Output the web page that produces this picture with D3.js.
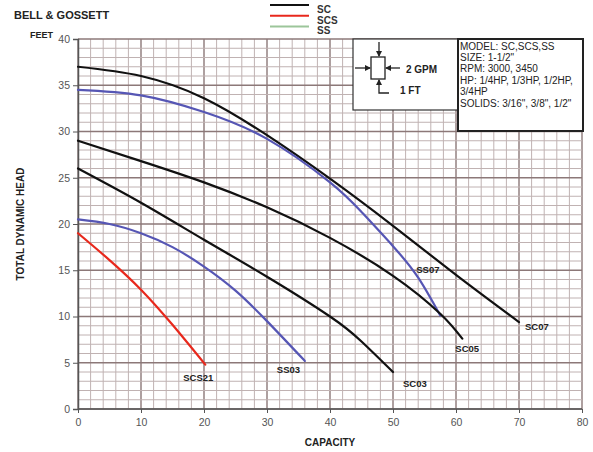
<!DOCTYPE html>
<html><head><meta charset="utf-8">
<script src="https://cdn.jsdelivr.net/npm/d3@7"></script>
<style>
html,body{margin:0;padding:0;background:#fff;}
svg{display:block;font-family:"Liberation Sans",Arial,sans-serif;}
</style></head>
<body>
<svg id="c" width="593" height="452"></svg>
<script>
// ---- data ----
const xTicks = [0,10,20,30,40,50,60,70,80];
const yTicks = [0,5,10,15,20,25,30,35,40];
const seriesNames = ["SC","SCS","SS"];
const curveNames = ["SC07","SS07","SC05","SC03","SS03","SCS21"];
const curveSeries = ["SC","SS","SC","SC","SS","SCS"];
const SC07 = [[0,37],[10,36.0],[20,33.6],[30,29.6],[40,24.9],[50,19.8],[60,14.5],[70,9.4]];
const SS07 = [[0,34.5],[10,33.9],[20,32.1],[30,29.2],[40,24.5],[45,21.3],[50,17.6],[54,14.2],[57.5,10.1]];
const SC05 = [[0,29],[10,26.8],[20,24.5],[30,21.8],[40,18.5],[50,14.4],[57.5,10.3],[61,7.6]];
const SC03 = [[0,26],[10,22.3],[20,18.3],[30,14.3],[40,10.0],[45,7.3],[50,4.0]];
const SS03 = [[0,20.5],[5,20.0],[10,19.0],[15,17.5],[20,15.4],[25,12.8],[30,9.5],[36,5.2]];
const SCS21 = [[0,19],[5,16.1],[10,12.9],[15,9.1],[20.2,4.8]];
const infoLines = ["MODEL: SC,SCS,SS","SIZE: 1-1/2\"","RPM: 3000, 3450","HP: 1/4HP, 1/3HP, 1/2HP,","3/4HP","SOLIDS:  3/16\", 3/8\", 1/2\""];

// ---- styles / layout ----
const colors = {SC:"#111111", SCS:"#e8281c", SS:"#5656b4"};
const legendColors = {SC:"#111111", SCS:"#e8281c", SS:"#9cc59a"};
const labelOffsets = {SC07:[6,5], SS07:[-24,-46], SC05:[-7,10], SC03:[10,12], SS03:[-28,9], SCS21:[-22,13]};
const curves = {SC07, SS07, SC05, SC03, SS03, SCS21};

const svg = d3.select("#c");
const x = d3.scaleLinear().domain([0,80]).range([78,582]);
const y = d3.scaleLinear().domain([0,40]).range([409,39]);

// grid
const g = svg.append("g");
d3.range(0,81,2).forEach(v=>{
  const major = v%10===0;
  g.append("line").attr("x1",x(v)).attr("x2",x(v)).attr("y1",y(0)).attr("y2",y(40))
   .attr("stroke", major?"#8c7878":"#c0b2b2").attr("stroke-width", major?1.4:1);
});
d3.range(0,41,1).forEach(v=>{
  const major = v%5===0;
  g.append("line").attr("x1",x(0)).attr("x2",x(80)).attr("y1",y(v)).attr("y2",y(v))
   .attr("stroke", major?"#8c7878":"#c0b2b2").attr("stroke-width", major?1.4:1);
});

// axes
const xAxis = d3.axisBottom(x).tickValues(xTicks).tickSize(4).tickPadding(6);
const yAxis = d3.axisLeft(y).tickValues(yTicks).tickSize(5).tickPadding(3);
const gx = svg.append("g").attr("transform",`translate(0,${y(0)})`).call(xAxis);
const gy = svg.append("g").attr("transform",`translate(${x(0)},0)`).call(yAxis);
[gx,gy].forEach(a=>{
  a.select(".domain").attr("stroke","#555").attr("stroke-width",1.5);
  a.selectAll(".tick line").attr("stroke","#555");
  a.selectAll(".tick text").attr("fill","#555").style("font-size","10.5px").style("font-family","Liberation Sans, Arial, sans-serif");
});
gx.select(".domain").remove();
gx.append("line").attr("x1",x(0)).attr("x2",x(80)).attr("stroke","#555").attr("stroke-width",1.5);

// curves
const line = d3.line().x(d=>x(d[0])).y(d=>y(d[1])).curve(d3.curveNatural);
curveNames.forEach((n,i)=>{
  svg.append("path").attr("d",line(curves[n])).attr("fill","none")
    .attr("stroke",colors[curveSeries[i]]).attr("stroke-width",2.2).attr("stroke-linecap","round");
});
curveNames.forEach(n=>{
  const pts = curves[n]; const e = pts[pts.length-1]; const o = labelOffsets[n];
  svg.append("text").attr("x",x(e[0])+o[0]).attr("y",y(e[1])+o[1]).attr("dy","0.35em")
    .attr("font-size","9.5px").attr("font-weight","bold").attr("fill","#222").text(n);
});

// titles
svg.append("text").attr("x",14).attr("y",18.5).attr("font-size","11px").attr("font-weight","bold").attr("fill","#222").text("BELL & GOSSETT");
svg.append("text").attr("x",30).attr("y",38).attr("font-size","9px").attr("font-weight","bold").attr("fill","#222").text("FEET");
svg.append("text").attr("transform","translate(24,224) rotate(-90)").attr("text-anchor","middle")
  .attr("font-size","10px").attr("font-weight","bold").attr("fill","#222").text("TOTAL DYNAMIC HEAD");
svg.append("text").attr("x",330).attr("y",446).attr("text-anchor","middle")
  .attr("font-size","10px").attr("font-weight","bold").attr("fill","#222").text("CAPACITY");

// legend
seriesNames.forEach((s,i)=>{
  const ly = 5 + i*10.7;
  svg.append("line").attr("x1",270).attr("x2",309).attr("y1",ly).attr("y2",ly)
    .attr("stroke",legendColors[s]).attr("stroke-width",2);
  svg.append("text").attr("x",317).attr("y",ly+4.5).attr("dy","0.35em").attr("font-size","10px").attr("font-weight","bold").attr("fill","#333").text(s);
});

// diagram box
svg.append("rect").attr("x",353).attr("y",39).attr("width",105).attr("height",71).attr("fill","#fff").attr("stroke","#333").attr("stroke-width",1.2);
svg.append("rect").attr("x",458).attr("y",39).attr("width",125).attr("height",92).attr("fill","#fff").attr("stroke","#222").attr("stroke-width",2);
const dg = svg.append("g").attr("stroke","#222").attr("stroke-width",1.3).attr("fill","none");
dg.append("rect").attr("x",371).attr("y",57).attr("width",14).attr("height",22).attr("fill","#fff");
// top arrow
dg.append("line").attr("x1",379).attr("x2",379).attr("y1",42).attr("y2",56);
svg.append("path").attr("d","M376,51 L382,51 L379,57 Z").attr("fill","#222");
// bottom arrow + L
dg.append("path").attr("d","M379,80 L379,93 L389,93");
svg.append("path").attr("d","M376,85 L382,85 L379,79 Z").attr("fill","#222");
// left arrow
dg.append("line").attr("x1",355).attr("x2",370).attr("y1",68).attr("y2",68);
svg.append("path").attr("d","M365,65 L365,71 L371,68 Z").attr("fill","#222");
// right arrow
dg.append("line").attr("x1",386).attr("x2",400).attr("y1",68).attr("y2",68);
svg.append("path").attr("d","M391,65 L391,71 L385,68 Z").attr("fill","#222");
svg.append("text").attr("x",406).attr("y",69).attr("dy","0.35em").attr("font-size","10px").attr("font-weight","bold").attr("fill","#222").text("2 GPM");
svg.append("text").attr("x",400).attr("y",90).attr("dy","0.35em").attr("font-size","10px").attr("font-weight","bold").attr("fill","#222").text("1 FT");

// info text
infoLines.forEach((t,i)=>{
  svg.append("text").attr("x",460).attr("y",46+i*11.4).attr("dy","0.35em").attr("font-size","10px").attr("fill","#222").text(t);
});
</script>
</body></html>
